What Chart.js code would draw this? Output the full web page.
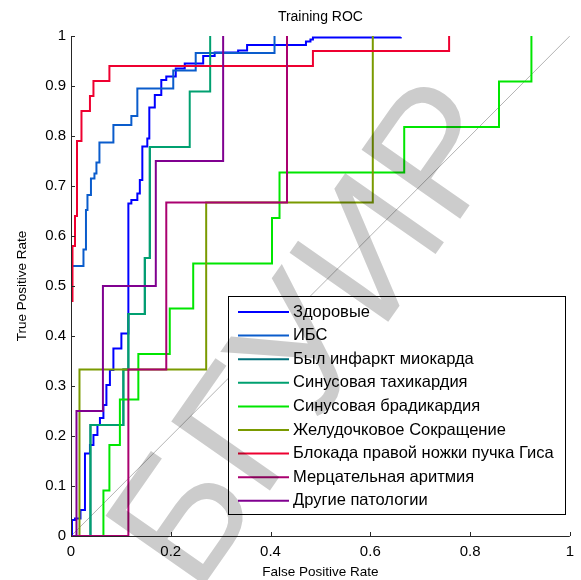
<!DOCTYPE html>
<html>
<head>
<meta charset="utf-8">
<script src="https://cdn.jsdelivr.net/npm/chart.js@4.4.1/dist/chart.umd.min.js"></script>
<style>
body { margin: 0; background: #fff; }
</style>
</head>
<body>
<canvas id="roc" width="581" height="580"></canvas>
<script>
// названия классов и цвета линий
var classNames = ['Здоровые', 'ИБС', 'Был инфаркт миокарда', 'Синусовая тахикардия',
  'Синусовая брадикардия', 'Желудочковое Сокращение', 'Блокада правой ножки пучка Гиса',
  'Мерцательная аритмия', 'Другие патологии']
var classColors = ['#0000ff', '#0a5ccc', '#00707a', '#00a070', '#00e600', '#7a9a00', '#ee0030', '#aa0070', '#800090']

// точки ROC (FPR, TPR) - ступенька "сначала вправо, потом вверх"
var fpr0 = [0, 0.002, 0.008, 0.019, 0.028, 0.038, 0.045, 0.053, 0.058, 0.065, 0.071, 0.078, 0.085, 0.101, 0.115, 0.121, 0.133, 0.138, 0.143, 0.153, 0.157, 0.168, 0.181, 0.191, 0.21, 0.228, 0.265, 0.288, 0.335, 0.353, 0.465, 0.471, 0.48, 0.485, 0.661]
var tpr0 = [0, 0.032, 0.035, 0.052, 0.165, 0.182, 0.202, 0.222, 0.236, 0.262, 0.302, 0.332, 0.375, 0.405, 0.665, 0.672, 0.685, 0.712, 0.779, 0.795, 0.857, 0.882, 0.912, 0.919, 0.935, 0.945, 0.96, 0.967, 0.971, 0.982, 0.982, 0.989, 0.993, 0.997, 0.998]

var fpr1 = [0, 0, 0.002, 0.025, 0.030, 0.033, 0.040, 0.047, 0.051, 0.057, 0.085, 0.121, 0.133, 0.205, 0.25, 0.408]
var tpr1 = [0, 0.47, 0.54, 0.573, 0.652, 0.682, 0.715, 0.725, 0.747, 0.787, 0.822, 0.84, 0.895, 0.931, 0.966, 1]

var fpr2 = [0, 0.039, 0.105, 0.115, 0.148, 0.158]
var tpr2 = [0, 0.222, 0.333, 0.444, 0.556, 0.778]

var fpr3 = [0, 0.039, 0.105, 0.115, 0.148, 0.158, 0.238, 0.279]
var tpr3 = [0, 0.222, 0.333, 0.444, 0.556, 0.778, 0.889, 1]

var fpr4 = [0, 0.065, 0.077, 0.098, 0.135, 0.198, 0.245, 0.403, 0.418, 0.668, 0.858, 0.923]
var tpr4 = [0, 0.091, 0.182, 0.273, 0.364, 0.455, 0.545, 0.636, 0.727, 0.818, 0.909, 1]

var fpr5 = [0, 0.017, 0.271, 0.605]
var tpr5 = [0, 0.333, 0.667, 1]

var fpr6 = [0, 0, 0.003, 0.008, 0.012, 0.021, 0.038, 0.045, 0.077, 0.485, 0.758]
var tpr6 = [0, 0.47, 0.58, 0.64, 0.79, 0.85, 0.88, 0.91, 0.94, 0.97, 1]

var fpr7 = [0, 0.115, 0.191, 0.433]
var tpr7 = [0, 0.333, 0.667, 1]

var fpr8 = [0, 0.011, 0.064, 0.17, 0.305]
var tpr8 = [0, 0.25, 0.5, 0.75, 1]

var allFpr = [fpr0, fpr1, fpr2, fpr3, fpr4, fpr5, fpr6, fpr7, fpr8]
var allTpr = [tpr0, tpr1, tpr2, tpr3, tpr4, tpr5, tpr6, tpr7, tpr8]

var xTicks = [0, 0.2, 0.4, 0.6, 0.8, 1]
var xTickLabels = ['0', '0.2', '0.4', '0.6', '0.8', '1']
var yTicks = [0, 0.1, 0.2, 0.3, 0.4, 0.5, 0.6, 0.7, 0.8, 0.9, 1]
var yTickLabels = ['0', '0.1', '0.2', '0.3', '0.4', '0.5', '0.6', '0.7', '0.8', '0.9', '1']

var FONT = '"Liberation Sans", Arial, sans-serif'

var datasets = []
for (let i = 0; i < classNames.length; i++) {
  var pts = []
  for (let j = 0; j < allFpr[i].length; j++) {
    pts.push({ x: allFpr[i][j], y: allTpr[i][j] })
  }
  datasets.push({
    label: classNames[i],
    data: pts,
    borderColor: classColors[i],
    borderWidth: 2,
    stepped: 'before',
    showLine: true,
    pointRadius: 0,
    order: classNames.length - i
  })
}
// диагональ
datasets.push({
  label: 'diag',
  data: [{ x: 0, y: 0 }, { x: 1, y: 1 }],
  borderColor: '#b4b4b4',
  borderWidth: 1,
  showLine: true,
  pointRadius: 0,
  order: 100
})

// оси с засечками внутрь, подписи, легенда и водяной знак
const decor = {
  id: 'decor',
  afterDatasetsDraw(chart) {
    const ctx = chart.ctx
    const a = chart.chartArea
    const xs = chart.scales.x, ys = chart.scales.y
    ctx.save()
    ctx.strokeStyle = '#262626'
    ctx.lineWidth = 1
    ctx.beginPath()
    ctx.moveTo(a.left + 0.5, a.top)
    ctx.lineTo(a.left + 0.5, a.bottom + 0.5)
    ctx.lineTo(a.right, a.bottom + 0.5)
    for (const v of xTicks) {
      const px = Math.round(xs.getPixelForValue(v)) + 0.5
      ctx.moveTo(px, a.bottom)
      ctx.lineTo(px, a.bottom - 4)
    }
    for (const v of yTicks) {
      const py = Math.round(ys.getPixelForValue(v)) + 0.5
      ctx.moveTo(a.left, py)
      ctx.lineTo(a.left + 4, py)
    }
    ctx.stroke()

    // подписи
    ctx.fillStyle = '#000'
    ctx.textAlign = 'center'
    ctx.textBaseline = 'middle'
    const cx = (a.left + a.right) / 2
    ctx.font = '14px ' + FONT
    ctx.fillText('Training ROC', cx, 17)
    ctx.font = '13.5px ' + FONT
    ctx.fillText('False Positive Rate', cx, 572)
    ctx.save()
    ctx.translate(22, (a.top + a.bottom) / 2)
    ctx.rotate(-Math.PI / 2)
    ctx.fillText('True Positive Rate', 0, 0)
    ctx.restore()

    // легенда
    const lx = 228, ly = 296, lw = 337, lh = 218
    ctx.fillStyle = '#fff'
    ctx.fillRect(lx, ly, lw, lh)
    ctx.strokeStyle = '#000'
    ctx.strokeRect(lx + 0.5, ly + 0.5, lw, lh)
    ctx.font = '16.5px ' + FONT
    ctx.textAlign = 'left'
    for (let i = 0; i < classNames.length; i++) {
      const ry = ly + 16 + i * 23.6
      ctx.strokeStyle = classColors[i]
      ctx.lineWidth = 2
      ctx.beginPath()
      ctx.moveTo(lx + 10, ry)
      ctx.lineTo(lx + 61, ry)
      ctx.stroke()
      ctx.fillStyle = '#000'
      ctx.fillText(classNames[i], lx + 65, ry)
    }
    ctx.restore()
  },
  afterDraw(chart) {
    const ctx = chart.ctx
    ctx.save()
    ctx.globalCompositeOperation = 'multiply'
    ctx.fillStyle = '#cccccc'
    ctx.font = '175px ' + FONT
    ctx.textAlign = 'center'
    ctx.textBaseline = 'middle'
    ctx.translate(318, 338)
    ctx.rotate(-55 * Math.PI / 180)
    ctx.fillText('БГУИР', 0, 0)
    ctx.restore()
  }
}

new Chart(document.getElementById('roc'), {
  type: 'scatter',
  data: { datasets: datasets },
  options: {
    responsive: false,
    animation: false,
    layout: { padding: { top: 36, right: 10, left: 0, bottom: 0 } },
    plugins: { legend: { display: false }, title: { display: false }, tooltip: { enabled: false } },
    scales: {
      x: {
        type: 'linear', min: 0, max: 1,
        grid: { display: false, drawTicks: false },
        border: { display: false },
        afterBuildTicks: s => { s.ticks = xTicks.map(v => ({ value: v })) },
        afterFit: s => { s.height = 44 },
        ticks: {
          padding: 7, color: '#000', maxRotation: 0, autoSkip: false,
          font: { size: 15, family: FONT },
          callback: (v, i) => xTickLabels[i]
        }
      },
      y: {
        type: 'linear', min: 0, max: 1,
        grid: { display: false, drawTicks: false },
        border: { display: false },
        afterBuildTicks: s => { s.ticks = yTicks.map(v => ({ value: v })) },
        afterFit: s => { s.width = 71 },
        ticks: {
          padding: 5, color: '#000', autoSkip: false,
          font: { size: 15, family: FONT },
          callback: (v, i) => yTickLabels[i]
        }
      }
    }
  },
  plugins: [decor]
})
</script>
</body>
</html>
